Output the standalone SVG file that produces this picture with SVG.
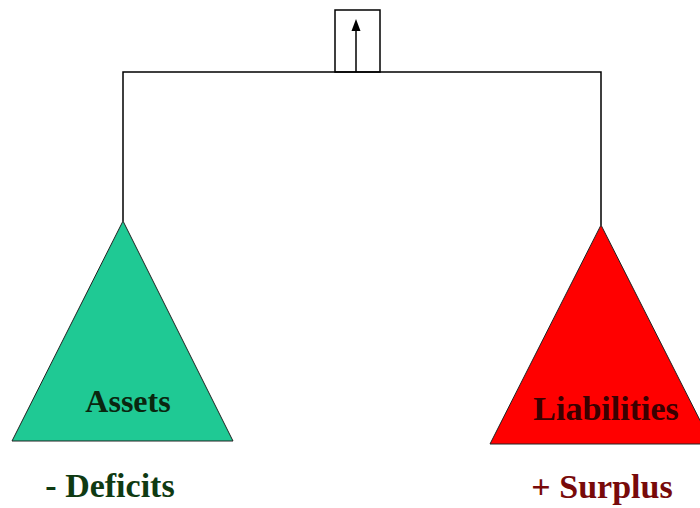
<svg xmlns="http://www.w3.org/2000/svg" width="700" height="508" viewBox="0 0 700 508">
  <defs>
    <style>
      .ln { fill: none; stroke: #000; stroke-width: 1.5; }
      .lbl { font-family: "Liberation Serif", "Times New Roman", serif; font-weight: bold; text-anchor: middle; }
    </style>
  </defs>
  <rect width="700" height="508" fill="#fff"/>
  <g id="connectors">
    <path class="ln" d="M123,221 V72 H601 V225"/>
    <rect id="pivot" class="ln" x="335" y="10" width="45" height="62"/>
    <line class="ln" x1="356" y1="72" x2="356" y2="28"/>
    <polygon points="356,19 360.5,31 351.5,31" fill="#000"/>
  </g>
  <g id="assets">
    <polygon points="123,221 12,441 233,441" fill="#1FC994" stroke="#222" stroke-width="1"/>
    <text class="lbl" x="128" y="412" font-size="32" fill="#0A260F">Assets</text>
  </g>
  <g id="liabilities">
    <polygon points="601,225 490,444 712,444" fill="#FF0000" stroke="#222" stroke-width="1"/>
    <text class="lbl" x="606" y="420" font-size="34" fill="#3A0000">Liabilities</text>
  </g>
  <g id="deficits">
    <text class="lbl" x="110" y="497" font-size="34" fill="#0F3A12">- Deficits</text>
  </g>
  <g id="surplus">
    <text class="lbl" x="602" y="498" font-size="34" fill="#780A0A">+ Surplus</text>
  </g>
</svg>
